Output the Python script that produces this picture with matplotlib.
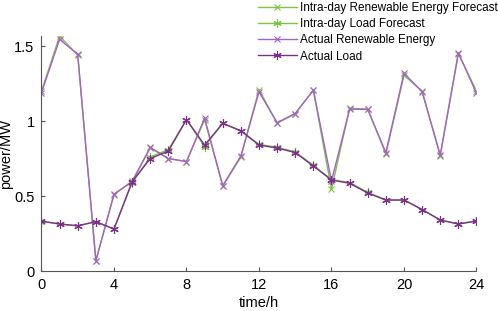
import matplotlib
matplotlib.use("Agg")
from matplotlib import pyplot as plt
import numpy as np

plt.rcParams['font.family'] = ['Liberation Sans', 'DejaVu Sans']

hours = np.arange(0, 25)

re_forecast = [1.20, 1.567, 1.44, 0.07, 0.51, 0.60, 0.82, 0.75, 0.73, 1.01, 0.565, 0.76, 1.21,
               0.985, 1.05, 1.205, 0.545, 1.085, 1.08, 0.78, 1.305, 1.20, 0.77, 1.45, 1.20]
load_forecast = [0.33, 0.315, 0.30, 0.33, 0.28, 0.59, 0.76, 0.81, 1.01, 0.83, 0.985, 0.935, 0.845,
                 0.825, 0.795, 0.705, 0.61, 0.59, 0.525, 0.475, 0.475, 0.41, 0.34, 0.315, 0.335]
re_actual = [1.19, 1.545, 1.445, 0.067, 0.513, 0.595, 0.825, 0.75, 0.73, 1.02, 0.57, 0.767, 1.195,
             0.99, 1.05, 1.207, 0.60, 1.08, 1.078, 0.79, 1.32, 1.195, 0.773, 1.455, 1.185]
load_actual = [0.333, 0.313, 0.302, 0.329, 0.28, 0.595, 0.75, 0.80, 1.01, 0.84, 0.985, 0.935, 0.84,
               0.82, 0.79, 0.70, 0.607, 0.585, 0.52, 0.473, 0.473, 0.41, 0.34, 0.313, 0.333]

green = '#7cc444'
purple_light = '#a860c8'
purple_dark = '#7e2f8e'

fig = plt.figure(figsize=(4.98, 3.11), dpi=100)
ax = fig.add_axes([0.0833, 0.1286, 0.8735, 0.7554])

ax.plot(hours, re_forecast, color=green, marker='x', ms=5, lw=1, mew=0.8,
        label='Intra-day Renewable Energy Forecast')
ax.plot(hours, load_forecast, color=green, marker=(6, 2, 0), ms=6, lw=1, mew=0.8,
        label='Intra-day Load Forecast')
ax.plot(hours, re_actual, color=purple_light, marker='x', ms=5, lw=1, mew=0.8,
        label='Actual Renewable Energy')
ax.plot(hours, load_actual, color=purple_dark, marker=(6, 2, 0), ms=6, lw=1, mew=0.8,
        label='Actual Load')

ax.set_xlim(0, 24)
ax.set_ylim(0, 1.567)
ax.set_xticks(np.arange(0, 25, 4))
ax.set_yticks([0, 0.5, 1, 1.5])
ax.set_yticklabels(['0', '0.5', '1', '1.5'])
ax.tick_params(direction='in', length=3, labelsize=10.5, color='#555555', pad=5)
for s in ['top', 'right']:
    ax.spines[s].set_visible(False)
for s in ['left', 'bottom']:
    ax.spines[s].set_color('#555555')
ax.set_xlabel('time/h', fontsize=10.5, labelpad=3)
ax.set_ylabel('power/MW', fontsize=10.5, labelpad=1)

fig.legend(loc='upper left', bbox_to_anchor=(0.508, 1.008), frameon=False, fontsize=8.5,
           handlelength=3.3, handletextpad=0.25, labelspacing=0.35, borderaxespad=0)

fig.savefig('out.png', dpi=100)
